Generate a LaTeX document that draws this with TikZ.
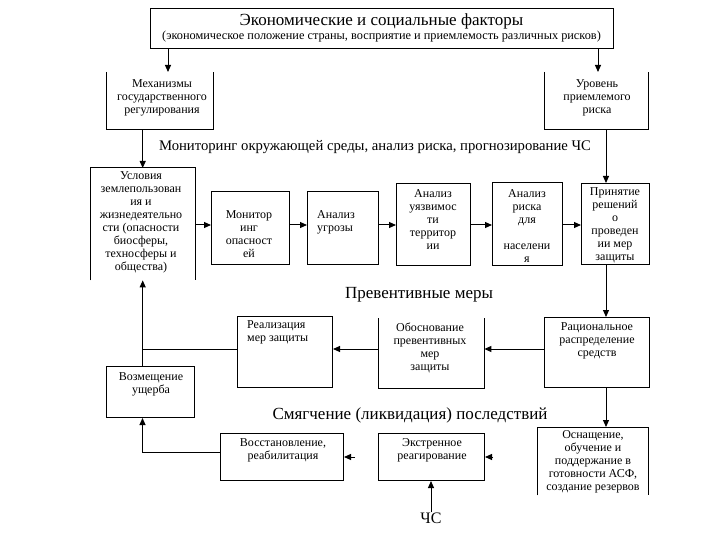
\documentclass[tikz,border=0pt]{standalone}
\usepackage{fontspec}
\setmainfont{Liberation Serif}
\usetikzlibrary{arrows.meta}
\begin{document}
\begin{tikzpicture}[x=1pt,y=-1pt,
  box/.style={draw, line width=1pt, inner sep=0pt, anchor=north west},
  obox/.style={inner sep=0pt, anchor=north west},
  edge/.style={line width=1pt},
  arr/.style={line width=1pt, -{Triangle[length=7pt,width=6pt]}},
  txt/.style={font=\fontsize{12}{13}\selectfont, align=center, inner sep=0pt},
  lbl/.style={font=\fontsize{17}{19}\selectfont, inner sep=0pt}]
\useasboundingbox[fill=white] (0,0) rectangle (720,540);

% boxes
\node[box, minimum width=463pt, minimum height=40pt] (top) at (150,8) {};
\node[obox, minimum width=107pt, minimum height=57pt] (mech) at (106,72) {};
\node[obox, minimum width=104pt, minimum height=57pt] (urov) at (544,72) {};
\node[obox, minimum width=105pt, minimum height=112pt] (usl) at (90,168) {};
\node[box, minimum width=78pt, minimum height=73pt] (mon) at (211,191) {};
\node[box, minimum width=71pt, minimum height=73pt] (ugr) at (307,191) {};
\node[box, minimum width=74pt, minimum height=82pt] (uyaz) at (396,183) {};
\node[box, minimum width=70pt, minimum height=83pt] (risk) at (492,182) {};
\node[box, minimum width=68pt, minimum height=81pt] (prin) at (581,183) {};
\node[box, minimum width=105pt, minimum height=70pt] (rac) at (544,317) {};
\node[obox, minimum width=106pt, minimum height=70pt] (obos) at (378,318) {};
\node[box, minimum width=95pt, minimum height=71pt] (real) at (237,316) {};
\node[box, minimum width=88pt, minimum height=51pt] (vozm) at (106,366) {};
\node[obox, minimum width=111pt, minimum height=68pt] (osn) at (537,427) {};
\node[box, minimum width=106pt, minimum height=47pt] (ekst) at (378,433) {};
\node[box, minimum width=123pt, minimum height=47pt] (vost) at (220,433) {};

% open box edges
\draw[edge] (mech.north west) -- (mech.south west) -- (mech.south east) -- (mech.north east);
\draw[edge] (urov.north west) -- (urov.south west) -- (urov.south east) -- (urov.north east);
\draw[edge] (usl.south west) -- (usl.north west) -- (usl.north east) -- (usl.south east);
\draw[edge] (obos.north west) -- (obos.south west) -- (obos.south east) -- (obos.north east);
\draw[edge] (osn.south west) -- (osn.north west) -- (osn.north east) -- (osn.south east);

% texts
\node[lbl] (top-t1) at (381.5,21) {Экономические и социальные факторы};
\node[txt, font=\fontsize{12.3}{13}\selectfont] (top-t2) at (381.5,37) {(экономическое положение страны, восприятие и приемлемость различных рисков)};
\node[txt] (mech-t) at (162,98) {Механизмы\\государственного\\регулирования};
\node[txt] (urov-t) at (597,98) {Уровень\\приемлемого\\риска};
\node[lbl, font=\fontsize{14.7}{17}\selectfont] (mon-lbl) at (375,147) {Мониторинг окружающей среды, анализ риска, прогнозирование ЧС};
\node[txt] (usl-t) at (141,222.5) {Условия\\землепользован\\ия и\\жизнедеятельно\\сти (опасности\\биосферы,\\техносферы и\\общества)};
\node[txt] (mon-t) at (249,234) {Монитор\\инг\\опасност\\ей};
\node[txt, anchor=west, align=left] (ugr-t) at (317,222) {Анализ\\угрозы};
\node[txt] (uyaz-t) at (433,220) {Анализ\\уязвимос\\ти\\территор\\ии};
\node[txt] (risk-t) at (527,226) {Анализ\\риска\\для\\\mbox{}\\населени\\я};
\node[txt] (prin-t) at (615,225) {Принятие\\решений\\о\\проведен\\ии мер\\защиты};
\node[lbl] (prev-lbl) at (419,295) {Превентивные меры};
\node[txt] (rac-t) at (597,341) {Рациональное\\распределение\\средств};
\node[txt] (obos-t) at (430,348) {Обоснование\\превентивных\\мер\\защиты};
\node[txt, anchor=north west, align=left] (real-t) at (247,320) {Реализация\\мер защиты};
\node[txt] (vozm-t) at (151,384) {Возмещение\\ущерба};
\node[lbl] (smyag-lbl) at (410,415) {Смягчение (ликвидация) последствий};
\node[txt] (osn-t) at (593,462) {Оснащение,\\обучение и\\поддержание в\\готовности АСФ,\\создание резервов};
\node[txt] (ekst-t) at (432,450) {Экстренное\\реагирование};
\node[txt] (vost-t) at (283,450) {Восстановление,\\реабилитация};
\node[lbl, font=\fontsize{16}{18}\selectfont] (cs) at (431,518) {ЧС};

% helper coordinates
\coordinate (c1) at (168,0);
\coordinate (c2) at (598,0);
\coordinate (v1) at (606,0);
\coordinate (h1) at (0,225);
\coordinate (h2) at (0,349);
\coordinate (j1) at (142.5,349);
\coordinate (j2) at (142.5,452);
\coordinate (s1) at (493,457);
\coordinate (s2) at (355,457);

% connectors
\draw[arr] (top.south -| c1) -- (mech.north -| c1);
\draw[arr] (top.south -| c2) -- (urov.north -| c2);
\draw[arr] (mech.south -| usl.north) -- (usl.north);
\draw[arr] (urov.south -| v1) -- (prin.north -| v1);
\draw[arr] (usl.east |- h1) -- (mon.west |- h1);
\draw[arr] (mon.east |- h1) -- (ugr.west |- h1);
\draw[arr] (ugr.east |- h1) -- (uyaz.west |- h1);
\draw[arr] (uyaz.east |- h1) -- (risk.west |- h1);
\draw[arr] (risk.east |- h1) -- (prin.west |- h1);
\draw[arr] (prin.south -| v1) -- (rac.north -| v1);
\draw[arr] (rac.west |- h2) -- (obos.east |- h2);
\draw[arr] (obos.west |- h2) -- (real.east |- h2);
\draw[edge] (real.west |- j1) -- (j1);
\draw[arr] (usl.south |- vozm.north) -- (usl.south);
\draw[arr] (rac.south -| v1) -- (osn.north -| v1);
\draw[arr] (s1) -- (ekst.east |- s1);
\draw[arr] (s2) -- (vost.east |- s2);
\draw[arr] (vost.west |- j2) -- (j2) -- (j2 |- vozm.south);
\draw[arr] (cs.north) -- (ekst.south -| cs.north);
\end{tikzpicture}
\end{document}
